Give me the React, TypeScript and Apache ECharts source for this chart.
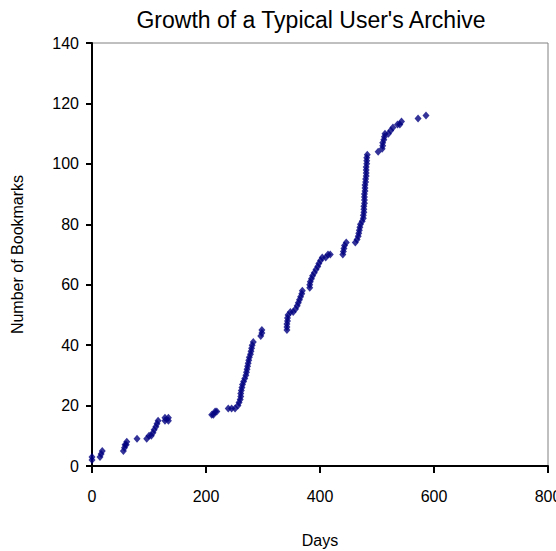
import React, { useEffect, useRef } from "react";
import * as echarts from "echarts";

const TITLE = "Growth of a Typical User's Archive";
const X_NAME = "Days";
const Y_NAME = "Number of Bookmarks";

const days = [
  0, 0, 14, 16, 18, 55, 57, 58, 60, 61, 79,
  96, 100, 104, 107, 109, 112, 114, 116, 128, 128, 134, 134,
  210, 213, 216, 219, 239, 245, 251, 256, 258,
  260, 261, 261, 262, 263, 264, 266, 268, 270, 271, 272, 273, 274, 275, 276, 278, 279, 280, 281, 283,
  296, 298, 298,
  342, 342, 342, 343, 343, 344,
  348, 353, 357, 360, 362, 364, 366, 368, 369,
  382, 382, 383, 385, 387, 390, 393, 396, 398, 401, 404,
  410, 414, 418,
  440, 441, 442, 443, 446,
  462, 465, 467, 468, 469, 470, 471, 474,
  476, 476, 477, 477, 477, 478, 478, 478, 478, 479, 479, 479, 480, 480, 481, 481, 481, 481, 482, 482, 482, 483,
  502, 509, 510, 510, 512, 513, 514,
  520, 524, 528, 536, 540, 543, 572, 586,
];

const bookmarks = [
  2, 3, 3, 4, 5, 5, 6, 7, 7, 8, 9,
  9, 10, 10, 11, 12, 13, 14, 15, 15, 16, 15, 16,
  17, 17, 18, 18, 19, 19, 19, 20, 21,
  22, 23, 24, 25, 26, 27, 28, 29, 30, 31, 32, 33, 34, 35, 36, 37, 38, 39, 40, 41,
  43, 44, 45,
  45, 46, 47, 48, 49, 50,
  51, 51, 52, 53, 54, 55, 56, 57, 58,
  59, 60, 61, 62, 63, 64, 65, 66, 67, 68, 69,
  69, 70, 70,
  70, 71, 72, 73, 74,
  74, 75, 76, 77, 78, 79, 80, 81,
  82, 83, 84, 85, 86, 87, 88, 89, 90, 91, 92, 93, 94, 95, 96, 97, 98, 99, 100, 101, 102, 103,
  104, 105, 106, 107, 108, 109, 110,
  110, 111, 112, 113, 113, 114, 115, 116,
];

export default function App() {
  const ref = useRef<HTMLDivElement>(null);
  useEffect(() => {
    if (!ref.current) return;
    const chart = echarts.init(ref.current, null, { renderer: "svg" });
    const data = days.map((d, i) => [d, bookmarks[i]]);
    const font = "'Liberation Sans', Arial, sans-serif";
    chart.setOption({
      animation: false,
      backgroundColor: "#ffffff",
      textStyle: { fontFamily: font },
      graphic: [
        {
          type: "text",
          x: 311,
          y: 20,
          style: {
            text: TITLE,
            fontFamily: font,
            fontSize: 23,
            fill: "#000",
            align: "center",
            verticalAlign: "middle",
          },
        },
      ],
      grid: {
        left: 92,
        right: 8,
        top: 43,
        bottom: 85,
        containLabel: false,
        outerBoundsMode: "none",
        show: true,
        borderColor: "#808080",
        borderWidth: 1,
        backgroundColor: "transparent",
      },
      xAxis: {
        type: "value",
        min: 0,
        max: 800,
        interval: 200,
        name: X_NAME,
        nameLocation: "middle",
        nameGap: 66,
        nameTextStyle: { fontSize: 16, color: "#000", fontFamily: font },
        axisLine: { show: true, onZero: false, lineStyle: { color: "#000", width: 2 } },
        axisTick: { show: true, length: 7, lineStyle: { color: "#000", width: 2 } },
        axisLabel: { fontSize: 16, color: "#000", margin: 22, fontFamily: font },
        splitLine: { show: false },
      },
      yAxis: {
        type: "value",
        min: 0,
        max: 140,
        interval: 20,
        name: Y_NAME,
        nameLocation: "middle",
        nameRotate: 90,
        nameGap: 67,
        nameTextStyle: { fontSize: 16, color: "#000", fontFamily: font },
        axisLine: { show: true, onZero: false, lineStyle: { color: "#000", width: 2 } },
        axisTick: { show: true, length: 6, lineStyle: { color: "#000", width: 2 } },
        axisLabel: { fontSize: 16, color: "#000", margin: 13, fontFamily: font },
        splitLine: { show: false },
      },
      series: [
        {
          type: "scatter",
          data,
          symbol: "diamond",
          symbolSize: [7, 8],
          itemStyle: { color: "#000080" },
          clip: false,
        },
      ],
    });
    return () => chart.dispose();
  }, []);
  return (
    <div
      ref={ref}
      style={{ position: "fixed", left: 0, top: 0, width: 556, height: 551 }}
    />
  );
}
